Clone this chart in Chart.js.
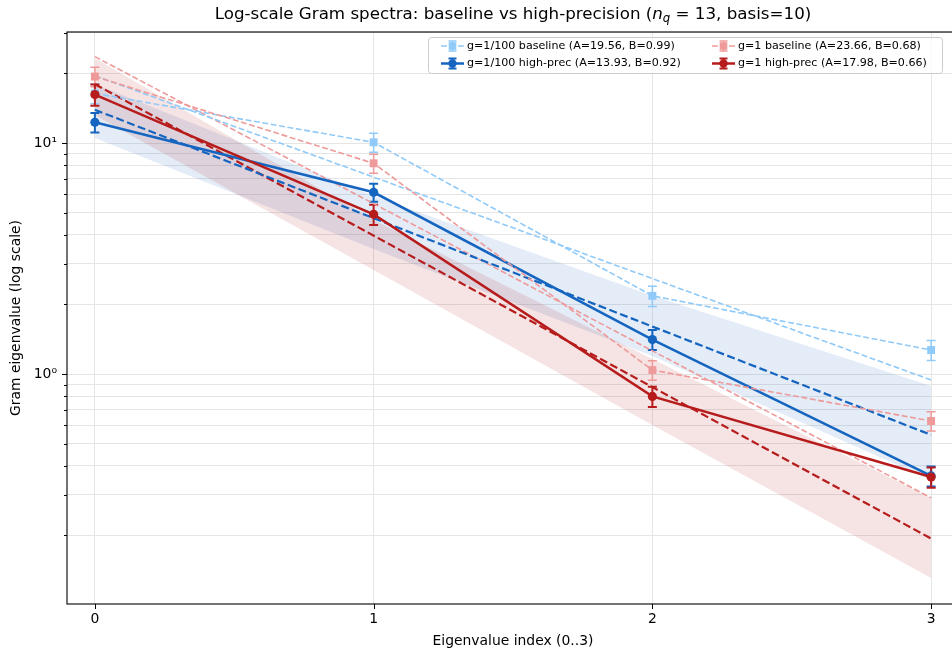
<!DOCTYPE html>
<html>
<head>
<meta charset="utf-8">
<script src="https://cdn.jsdelivr.net/npm/chart.js@4.4.1/dist/chart.umd.min.js"></script>
<style>
  html, body { margin: 0; padding: 0; background: #fff; overflow: hidden; }
  #wrap { width: 975px; height: 650px; }
</style>
</head>
<body>
<div id="wrap"><canvas id="gram-chart" width="975" height="650"></canvas></div>
<script>
// eigenvalue index
const idx = [0, 1, 2, 3];

// measured spectra (mean +/- err)
const baseSmall = [16.4, 10.07, 2.18, 1.27];
const baseSmallErr = [1.6, 0.95, 0.22, 0.125];
const hpSmall = [12.3, 6.12, 1.41, 0.362];
const hpSmallErr = [1.2, 0.55, 0.14, 0.036];
const baseOne = [19.4, 8.17, 1.04, 0.626];
const baseOneErr = [1.9, 0.77, 0.10, 0.06];
const hpOne = [16.2, 4.91, 0.80, 0.358];
const hpOneErr = [1.7, 0.49, 0.08, 0.036];

// exponential fits, value at index 0 and index 3
const fitBaseSmall = [19.56, 0.942];
const fitHpSmall = [13.93, 0.545];
const fitBaseOne = [23.66, 0.291];
const fitHpOne = [17.98, 0.194];

// fit confidence bands for the high-precision runs
const bandSmallLo = [10.5, 3.48, 1.196, 0.348];
const bandSmallHi = [18.0, 5.90, 2.18, 0.887];
const bandOneLo = [13.2, 2.82, 0.601, 0.131];
const bandOneHi = [23.3, 4.64, 1.161, 0.29];

const yTicks = [0.2, 0.3, 0.4, 0.5, 0.6, 0.7, 0.8, 0.9, 1, 2, 3, 4, 5, 6, 7, 8, 9, 10, 20, 30];

const C_LB = '#90caf9', C_B = '#1565c0', C_LR = '#ef9a9a', C_R = '#b71c1c';
const FONT = '"DejaVu Sans", sans-serif';

const pts = arr => idx.map((x, i) => ({ x: x, y: arr[i] }));
const ends = arr => [{ x: 0, y: arr[0] }, { x: 3, y: arr[1] }];

const series = [
  { label: 'g=1/100 baseline (A=19.56, B=0.99)', v: baseSmall, e: baseSmallErr, c: C_LB, lw: 1.6, cap: 1.5, dash: [5.9, 2.6], mk: 'rect' },
  { label: 'g=1/100 high-prec (A=13.93, B=0.92)', v: hpSmall, e: hpSmallErr, c: C_B, lw: 2.5, cap: 2, dash: [], mk: 'circle' },
  { label: 'g=1 baseline (A=23.66, B=0.68)', v: baseOne, e: baseOneErr, c: C_LR, lw: 1.6, cap: 1.5, dash: [5.9, 2.6], mk: 'rect' },
  { label: 'g=1 high-prec (A=17.98, B=0.66)', v: hpOne, e: hpOneErr, c: C_R, lw: 2.5, cap: 2, dash: [], mk: 'circle' }
];

const plain = { pointRadius: 0, pointHoverRadius: 0, tension: 0 };

const datasets = [
  // bands (lower edge, then upper edge filled down to it)
  Object.assign({ data: pts(bandSmallLo), borderWidth: 0, borderColor: 'rgba(0,0,0,0)', fill: false, order: 20 }, plain),
  Object.assign({ data: pts(bandSmallHi), borderWidth: 0, borderColor: 'rgba(0,0,0,0)', backgroundColor: 'rgba(21,101,192,0.12)', fill: '-1', order: 20 }, plain),
  Object.assign({ data: pts(bandOneLo), borderWidth: 0, borderColor: 'rgba(0,0,0,0)', fill: false, order: 19 }, plain),
  Object.assign({ data: pts(bandOneHi), borderWidth: 0, borderColor: 'rgba(0,0,0,0)', backgroundColor: 'rgba(183,28,28,0.12)', fill: '-1', order: 19 }, plain),
  // fit lines
  Object.assign({ data: ends(fitBaseSmall), borderColor: C_LB, borderWidth: 1.6, borderDash: [5.9, 2.6], fill: false, order: 10 }, plain),
  Object.assign({ data: ends(fitBaseOne), borderColor: C_LR, borderWidth: 1.6, borderDash: [5.9, 2.6], fill: false, order: 10 }, plain),
  Object.assign({ data: ends(fitHpSmall), borderColor: C_B, borderWidth: 2.2, borderDash: [8, 3.5], fill: false, order: 9 }, plain),
  Object.assign({ data: ends(fitHpOne), borderColor: C_R, borderWidth: 2.2, borderDash: [8, 3.5], fill: false, order: 9 }, plain)
];

// measured spectra on top
series.forEach((s, k) => {
  datasets.push({
    label: s.label,
    data: pts(s.v),
    borderColor: s.c,
    backgroundColor: s.c,
    borderWidth: s.lw,
    borderDash: s.dash,
    pointStyle: s.mk,
    pointRadius: s.mk === 'rect' ? 5.6 : 4.6,
    pointBorderWidth: 0,
    pointBackgroundColor: s.c,
    fill: false,
    tension: 0,
    order: 4 - k
  });
});

function drawErrBar(ctx, x, yTop, yBot, color, lw, cap) {
  ctx.save();
  ctx.strokeStyle = color;
  ctx.lineWidth = lw;
  ctx.beginPath();
  ctx.moveTo(x, yTop); ctx.lineTo(x, yBot);
  ctx.moveTo(x - cap, yTop); ctx.lineTo(x + cap, yTop);
  ctx.moveTo(x - cap, yBot); ctx.lineTo(x + cap, yBot);
  ctx.stroke();
  ctx.restore();
}

const errorBars = {
  id: 'errorBars',
  beforeDatasetsDraw(chart) {
    const ctx = chart.ctx, xs = chart.scales.x, ys = chart.scales.y;
    series.forEach(s => {
      s.v.forEach((v, i) => {
        const px = xs.getPixelForValue(idx[i]);
        drawErrBar(ctx, px, ys.getPixelForValue(v + s.e[i]), ys.getPixelForValue(v - s.e[i]), s.c, s.cap, 4.5);
      });
    });
  }
};

const frame = {
  id: 'frame',
  afterDraw(chart) {
    const ctx = chart.ctx, a = chart.chartArea, xs = chart.scales.x, ys = chart.scales.y;
    ctx.save();
    ctx.strokeStyle = '#000';
    ctx.lineWidth = 1.1;
    ctx.strokeRect(a.left, a.top, a.right - a.left, a.bottom - a.top);
    // tick marks
    ctx.lineWidth = 1;
    ctx.beginPath();
    idx.forEach(v => {
      const px = Math.round(xs.getPixelForValue(v)) + 0.5;
      ctx.moveTo(px, a.bottom); ctx.lineTo(px, a.bottom + 5);
    });
    yTicks.forEach(v => {
      const py = Math.round(ys.getPixelForValue(v)) + 0.5;
      const len = (v === 1 || v === 10) ? 5 : 3;
      ctx.moveTo(a.left, py); ctx.lineTo(a.left - len, py);
    });
    ctx.stroke();

    // title with math subscript
    const parts = [
      { t: 'Log-scale Gram spectra: baseline vs high-precision (', f: '16.7px ' + FONT, dy: 0 },
      { t: 'n', f: 'italic 16.7px ' + FONT, dy: 0 },
      { t: 'q', f: 'italic 11.7px ' + FONT, dy: 3.5 },
      { t: ' = 13, basis=10)', f: '16.7px ' + FONT, dy: 0 }
    ];
    let w = 0;
    parts.forEach(p => { ctx.font = p.f; p.w = ctx.measureText(p.t).width; w += p.w; });
    let x = (a.left + a.right) / 2 - w / 2;
    ctx.fillStyle = '#000';
    ctx.textBaseline = 'middle';
    parts.forEach(p => { ctx.font = p.f; ctx.fillText(p.t, x, 15 + p.dy); x += p.w; });

    // legend, two columns
    const bx = 428, by = 37, bw = 514, bh = 36;
    ctx.fillStyle = 'rgba(255,255,255,0.8)';
    ctx.strokeStyle = '#cccccc';
    ctx.lineWidth = 1;
    ctx.beginPath();
    ctx.roundRect(bx + 0.5, by + 0.5, bw, bh, 3);
    ctx.fill(); ctx.stroke();
    const cells = [
      { s: series[0], hx: 441, ty: 46 },
      { s: series[1], hx: 441, ty: 63.5 },
      { s: series[2], hx: 712, ty: 46 },
      { s: series[3], hx: 712, ty: 63.5 }
    ];
    cells.forEach(cl => {
      const s = cl.s, mid = cl.hx + 11.5;
      ctx.save();
      ctx.strokeStyle = s.c;
      ctx.lineWidth = s.lw;
      ctx.setLineDash(s.dash);
      ctx.beginPath();
      ctx.moveTo(cl.hx, cl.ty); ctx.lineTo(cl.hx + 23, cl.ty);
      ctx.stroke();
      ctx.restore();
      drawErrBar(ctx, mid, cl.ty - 5, cl.ty + 5, s.c, s.cap, 4);
      ctx.fillStyle = s.c;
      ctx.beginPath();
      if (s.mk === 'rect') ctx.rect(mid - 3.8, cl.ty - 3.8, 7.6, 7.6);
      else ctx.arc(mid, cl.ty, 4.2, 0, Math.PI * 2);
      ctx.fill();
      ctx.fillStyle = '#000';
      ctx.font = '11.1px ' + FONT;
      ctx.textBaseline = 'middle';
      ctx.fillText(s.label, cl.hx + 26, cl.ty);
    });
    ctx.restore();
  }
};

const config = {
  type: 'line',
  data: { datasets: datasets },
  options: {
    responsive: false,
    animation: false,
    events: [],
    layout: { padding: { left: 0, top: 32, right: 16, bottom: 0 } },
    plugins: {
      legend: { display: false },
      tooltip: { enabled: false },
      title: { display: false },
      filler: { drawTime: 'beforeDatasetsDraw' }
    },
    scales: {
      x: {
        type: 'linear',
        min: -0.1,
        max: 3.1,
        afterBuildTicks: sc => { sc.ticks = idx.map(v => ({ value: v })); },
        afterFit: sc => { sc.height = 46; },
        grid: { color: '#e5e5e5', lineWidth: 1, drawTicks: false },
        border: { display: false },
        ticks: { color: '#000', font: { family: FONT, size: 13.9 }, padding: 7, callback: v => String(v) },
        title: { display: true, text: 'Eigenvalue index (0..3)', color: '#000', font: { family: FONT, size: 13.9 }, padding: { top: 0, bottom: 0 } }
      },
      y: {
        type: 'logarithmic',
        min: 0.101,
        max: 30.24,
        afterBuildTicks: sc => { sc.ticks = yTicks.map(v => ({ value: v })); },
        afterFit: sc => { sc.width = 67; },
        grid: { color: '#e5e5e5', lineWidth: 1, drawTicks: false },
        border: { display: false },
        ticks: {
          color: '#000',
          font: { family: FONT, size: 13.9 },
          padding: 10,
          autoSkip: false,
          callback: v => (v === 1 ? '10⁰' : v === 10 ? '10¹' : '')
        },
        title: { display: true, text: 'Gram eigenvalue (log scale)', color: '#000', font: { family: FONT, size: 13.9 }, padding: { top: 8, bottom: 0 } }
      }
    }
  },
  plugins: [errorBars, frame]
};

const gramChart = new Chart(document.getElementById('gram-chart').getContext('2d'), config);
</script>
</body>
</html>
